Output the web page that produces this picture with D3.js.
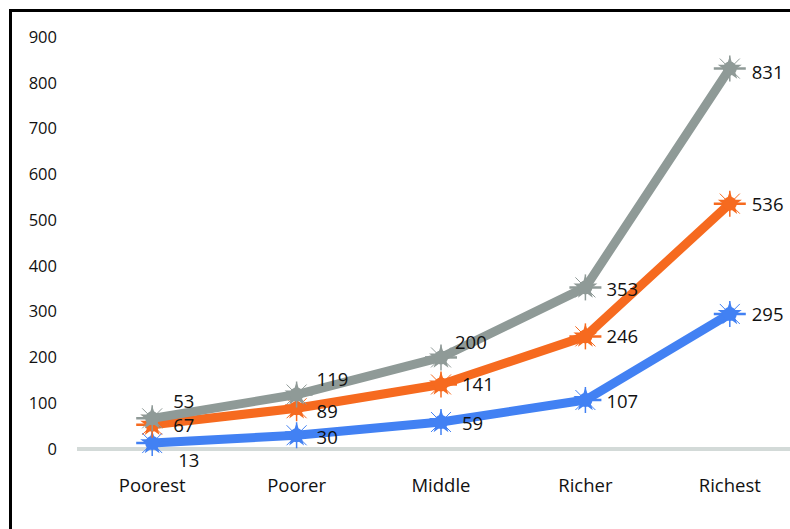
<!DOCTYPE html>
<html>
<head>
<meta charset="utf-8">
<script src="https://cdn.jsdelivr.net/npm/d3@7"></script>
<style>
  html, body { margin: 0; padding: 0; background: #fff; }
  svg { display: block; }
  text { font-family: "Open Sans", "Noto Sans", sans-serif; fill: #111; }
</style>
</head>
<body>
<svg id="chart" width="790" height="529"></svg>
<script>
// Wealth quintiles along the x axis
const categories = ["Poorest", "Poorer", "Middle", "Richer", "Richest"];

// Three series, one value per quintile
const seriesBlue = [13, 30, 59, 107, 295];
const seriesOrange = [53, 89, 141, 246, 536];
const seriesGray = [67, 119, 200, 353, 831];

// Value axis ticks
const yTicks = [0, 100, 200, 300, 400, 500, 600, 700, 800, 900];

const series = [
  { key: "blue", values: seriesBlue, color: "#4281f3" },
  { key: "orange", values: seriesOrange, color: "#f66a1f" },
  { key: "gray", values: seriesGray, color: "#8f9a97" }
];

// Per-label nudges (dx, dy) where a label was moved off its default spot
const labelNudge = {
  gray: [[21, 7], [20, -15], [14, -15], [21, 2], [22, 4]],
  orange: [[21, -23], [20, 3], [21, 0], [21, 0], [22, 1]],
  blue: [[26, 17], [20, 2], [21, 2], [21, 2], [22, 1]]
};

const svg = d3.select("#chart");

// Outer frame (left and top edges)
svg.append("path")
  .attr("d", "M10.5,529 V10.5 H790")
  .attr("fill", "none")
  .attr("stroke", "#000")
  .attr("stroke-width", 3);

const x = d3.scalePoint().domain(categories).range([80, 802]).padding(0.5);
const y = d3.scaleLinear().domain([0, 900]).range([449, 37]);

// Y tick labels
svg.append("g").selectAll("text")
  .data(yTicks)
  .join("text")
  .attr("x", 57)
  .attr("y", d => y(d))
  .attr("dy", "0.35em")
  .attr("text-anchor", "end")
  .attr("font-size", 16.5)
  .text(d => d);

// Zero baseline
svg.append("line")
  .attr("x1", 77).attr("x2", 802)
  .attr("y1", y(0)).attr("y2", y(0))
  .attr("stroke", "#d3dad8")
  .attr("stroke-width", 4);

// Category labels
svg.append("g").selectAll("text")
  .data(categories)
  .join("text")
  .attr("x", d => x(d))
  .attr("y", 486)
  .attr("dy", "0.35em")
  .attr("text-anchor", "middle")
  .attr("font-size", 18.5)
  .text(d => d);

const line = d3.line()
  .x((d, i) => x(categories[i]))
  .y(d => y(d));

// Star-burst marker: solid core plus spikes
function drawMarker(g, cx, cy, color) {
  const m = g.append("g").attr("transform", `translate(${cx},${cy})`);
  m.append("line").attr("x1", -16).attr("x2", 16).attr("y1", 0).attr("y2", 0)
    .attr("stroke", color).attr("stroke-width", 2.5);
  m.append("line").attr("x1", 0).attr("x2", 0).attr("y1", -13).attr("y2", 13)
    .attr("stroke", color).attr("stroke-width", 1.5);
  m.append("line").attr("x1", -10).attr("x2", 10).attr("y1", -10).attr("y2", 10)
    .attr("stroke", color).attr("stroke-width", 1);
  m.append("line").attr("x1", -10).attr("x2", 10).attr("y1", 10).attr("y2", -10)
    .attr("stroke", color).attr("stroke-width", 1);
  m.append("path").attr("d", d3.symbol(d3.symbolStar, 180)())
    .attr("fill", color);
  m.append("circle").attr("r", 7).attr("fill", color);
}

series.forEach(s => {
  const g = svg.append("g");
  g.append("path")
    .datum(s.values)
    .attr("d", line)
    .attr("fill", "none")
    .attr("stroke", s.color)
    .attr("stroke-width", 9)
    .attr("stroke-linejoin", "round");
  s.values.forEach((v, i) => drawMarker(g, x(categories[i]), y(v), s.color));
});

// Data labels drawn last so they sit above all lines
series.forEach(s => {
  svg.append("g").selectAll("text")
    .data(s.values)
    .join("text")
    .attr("x", (d, i) => x(categories[i]) + labelNudge[s.key][i][0])
    .attr("y", (d, i) => y(d) + labelNudge[s.key][i][1])
    .attr("dy", "0.35em")
    .attr("font-size", 18.5)
    .text(d => d);
});
</script>
</body>
</html>
